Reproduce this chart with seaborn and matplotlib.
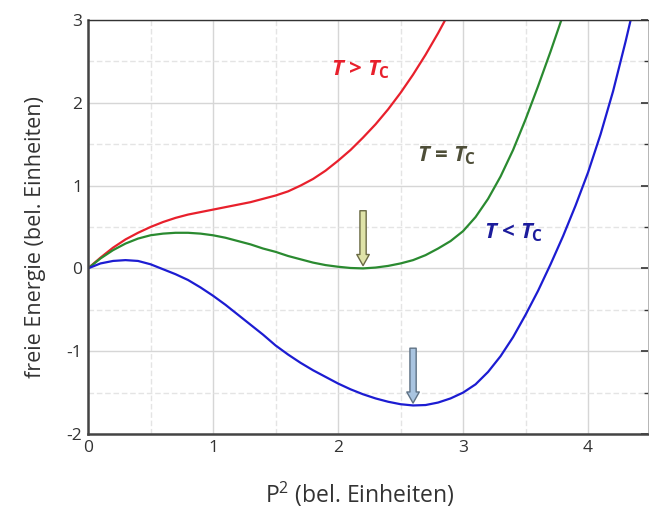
import numpy as np
import pandas as pd
import matplotlib
matplotlib.use("Agg")
import matplotlib.pyplot as plt
import seaborn as sns

# values (x = P^2, y = free energy)
x_red = [0.0, 0.1, 0.2, 0.3, 0.4, 0.5, 0.6, 0.7, 0.8, 0.9, 1.0, 1.1, 1.2, 1.3, 1.4,
         1.5, 1.6, 1.7, 1.8, 1.9, 2.0, 2.1, 2.2, 2.3, 2.4, 2.5, 2.6, 2.7, 2.8, 2.9]
y_red = [0.0, 0.13, 0.25, 0.35, 0.43, 0.50, 0.56, 0.61, 0.65, 0.68, 0.71, 0.74, 0.77, 0.80, 0.84,
         0.88, 0.93, 1.00, 1.08, 1.18, 1.30, 1.43, 1.58, 1.74, 1.92, 2.12, 2.34, 2.58, 2.84, 3.12]

x_green = [0.0, 0.1, 0.2, 0.3, 0.4, 0.5, 0.6, 0.7, 0.8, 0.9, 1.0, 1.1, 1.2, 1.3, 1.4, 1.5, 1.6, 1.7, 1.8, 1.9,
           2.0, 2.1, 2.2, 2.3, 2.4, 2.5, 2.6, 2.7, 2.8, 2.9, 3.0, 3.1, 3.2, 3.3, 3.4, 3.5, 3.6, 3.7, 3.8]
y_green = [0.0, 0.12, 0.22, 0.30, 0.36, 0.40, 0.42, 0.43, 0.43, 0.42, 0.40, 0.37, 0.33, 0.29, 0.24, 0.20, 0.15, 0.11, 0.07, 0.04,
           0.02, 0.005, 0.0, 0.01, 0.03, 0.06, 0.10, 0.16, 0.24, 0.33, 0.45, 0.62, 0.84, 1.11, 1.43, 1.80, 2.20, 2.62, 3.06]

x_blue = [0.0, 0.1, 0.2, 0.3, 0.4, 0.5, 0.6, 0.7, 0.8, 0.9, 1.0, 1.1, 1.2, 1.3, 1.4, 1.5, 1.6, 1.7, 1.8, 1.9,
          2.0, 2.1, 2.2, 2.3, 2.4, 2.5, 2.6, 2.7, 2.8, 2.9, 3.0, 3.1, 3.2, 3.3, 3.4, 3.5, 3.6, 3.7, 3.8, 3.9,
          4.0, 4.1, 4.2, 4.3, 4.35]
y_blue = [0.0, 0.06, 0.09, 0.10, 0.09, 0.05, -0.01, -0.07, -0.14, -0.23, -0.33, -0.44, -0.56, -0.68, -0.80, -0.93, -1.04, -1.14, -1.23, -1.31,
          -1.39, -1.46, -1.52, -1.57, -1.61, -1.64, -1.655, -1.65, -1.62, -1.57, -1.50, -1.40, -1.25, -1.06, -0.83, -0.56, -0.27, 0.05, 0.39, 0.76,
          1.16, 1.62, 2.14, 2.74, 3.06]

labels = ["T > Tc", "T = Tc", "T < Tc"]
colors = ["#e8202c", "#2a8a30", "#1c1cd2"]

df = pd.concat([
    pd.DataFrame({"x": x_red, "y": y_red, "curve": labels[0]}),
    pd.DataFrame({"x": x_green, "y": y_green, "curve": labels[1]}),
    pd.DataFrame({"x": x_blue, "y": y_blue, "curve": labels[2]}),
])

sns.set_style("white")
plt.rcParams["font.family"] = ["Open Sans", "DejaVu Sans"]
plt.rcParams["axes.unicode_minus"] = False
plt.rcParams["mathtext.fontset"] = "custom"
plt.rcParams["mathtext.it"] = "Open Sans:italic:bold"
plt.rcParams["mathtext.rm"] = "Open Sans:bold"
plt.rcParams["mathtext.bf"] = "Open Sans:bold"

fig = plt.figure(figsize=(6.49, 5.12), dpi=100)
ax = fig.add_axes([0.1356, 0.1523, 0.8630, 0.8087])

sns.lineplot(data=df, x="x", y="y", hue="curve", palette=colors, linewidth=1.6,
             legend=False, ax=ax, sort=False)

ax.set_xlim(0, 4.48)
ax.set_ylim(-2, 3)
ax.set_xticks([0, 1, 2, 3, 4])
ax.set_xticks([0.5, 1.5, 2.5, 3.5], minor=True)
ax.set_yticks([-2, -1, 0, 1, 2, 3])
ax.set_yticks([-1.5, -0.5, 0.5, 1.5, 2.5], minor=True)
ax.grid(which="major", color="#d6d6d6", linewidth=1.0)
ax.grid(which="minor", color="#e4e4e4", linewidth=1.0, linestyle=(0, (4, 2)))
ax.set_axisbelow(True)

for side in ["left", "bottom"]:
    ax.spines[side].set_color("#444444")
    ax.spines[side].set_linewidth(1.8)
ax.spines["top"].set_color("#333333")
ax.spines["top"].set_linewidth(1.0)
ax.spines["right"].set_color("#aaaaaa")
ax.spines["right"].set_linewidth(0.6)

ax.tick_params(which="major", direction="in", length=5, width=1.2, color="#333333",
               labelsize=12.5, labelcolor="#333333", right=True, pad=4)
ax.tick_params(which="minor", direction="in", length=3, width=1.0, color="#333333", right=True)

ax.set_xlabel("P$^\\mathregular{2}$ (bel. Einheiten)", fontsize=16.5, color="#333333")
ax.set_ylabel("freie Energie (bel. Einheiten)", fontsize=15.5, color="#333333")
ax.xaxis.label.set_va("center")
ax.yaxis.label.set_va("center")
ax.xaxis.set_label_coords(0.484, -0.147)
ax.yaxis.set_label_coords(-0.093, 0.476)

ax.text(1.94, 2.40, r"$T$ > $T_\mathrm{C}$", color="#e8202c", fontsize=16,
        fontweight="bold", va="center", ha="left")
ax.text(2.63, 1.36, r"$T$ = $T_\mathrm{C}$", color="#4e4e38", fontsize=16,
        fontweight="bold", va="center", ha="left")
ax.text(3.17, 0.43, r"$T$ < $T_\mathrm{C}$", color="#1c1c9c", fontsize=16,
        fontweight="bold", va="center", ha="left")

ax.annotate("", xy=(2.2, 0.0), xytext=(2.2, 0.73),
            arrowprops=dict(arrowstyle="simple,head_width=0.9,head_length=0.8,tail_width=0.45",
                            fc="#dfe3a8", ec="#6b6b45", lw=1.0))
ax.annotate("", xy=(2.6, -1.66), xytext=(2.6, -0.93),
            arrowprops=dict(arrowstyle="simple,head_width=0.9,head_length=0.8,tail_width=0.45",
                            fc="#a9c4e0", ec="#5f7285", lw=1.0))

fig.savefig("out.png", dpi=100)
